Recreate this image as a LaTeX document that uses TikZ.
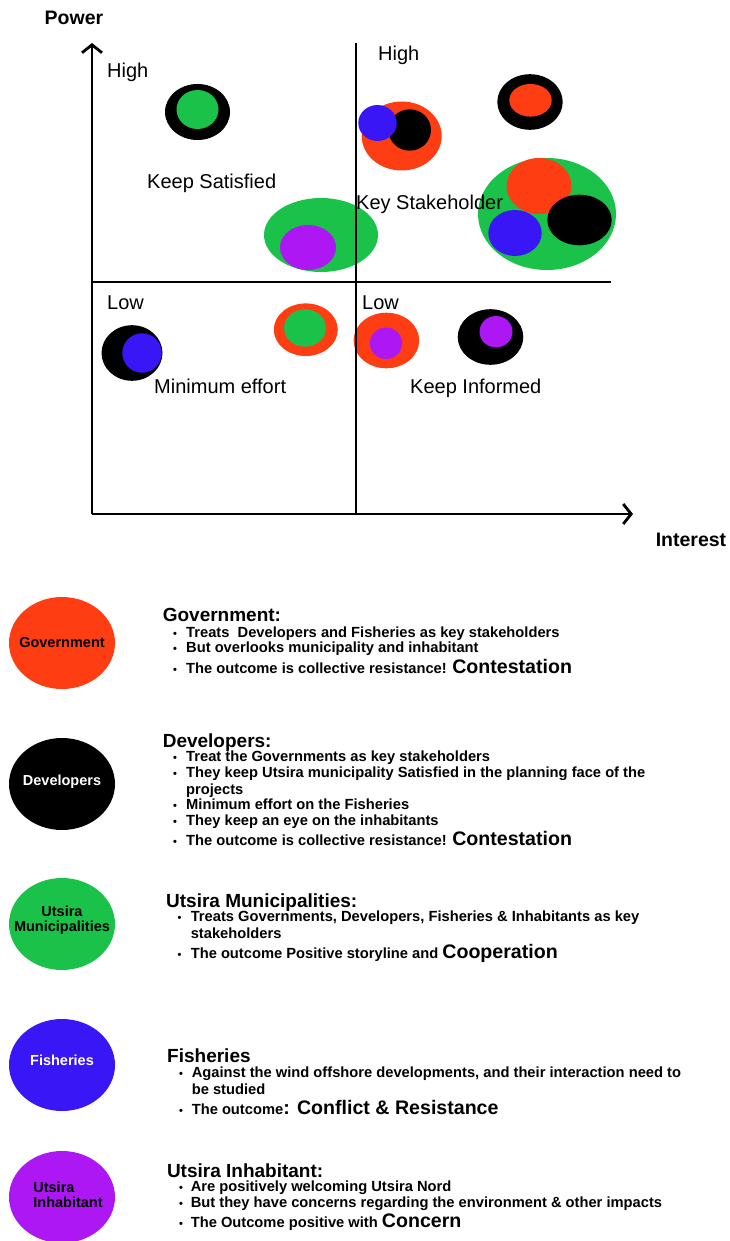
\documentclass[tikz,border=0pt]{standalone}
\usepackage{fontspec}
\setmainfont{Liberation Sans}
\usetikzlibrary{arrows.meta,shapes.geometric,positioning}
\definecolor{govred}{HTML}{FF3D12}
\definecolor{munigreen}{HTML}{1BC24A}
\definecolor{fishblue}{HTML}{3816F5}
\definecolor{inhabpurple}{HTML}{AD17F4}
\newcommand{\bigword}[1]{{\fontsize{19.6}{19.6}\selectfont #1}}

\begin{document}
\begin{tikzpicture}[x=1pt,y=-1pt,
  axisline/.style={line width=2.8pt,-{Straight Barb[length=8pt,width=20pt]}},
  divider/.style={line width=1.4pt},
  axistitle/.style={font=\bfseries\fontsize{19.5}{23}\selectfont,inner sep=0pt},
  quadtext/.style={font=\fontsize{20}{24}\selectfont,anchor=west,inner sep=0pt,text height=14pt,text depth=0pt},
  legcircle/.style={ellipse,minimum width=106pt,minimum height=92pt,inner sep=0pt},
  dotname/.style={font=\bfseries\fontsize{14.5}{15.5}\selectfont,align=center,inner sep=0pt},
  legtitle/.style={font=\bfseries\fontsize{19}{22}\selectfont,anchor=base west,inner sep=0pt},
  legitem/.style={font=\bfseries\fontsize{14.7}{16}\selectfont,anchor=base west,inner sep=0pt},
  bulletdot/.style={font=\bfseries\fontsize{11}{11}\selectfont,anchor=base west,inner sep=0pt}]
  \useasboundingbox (0,0) rectangle (729,1241);

  % power / interest grid
  \coordinate (origin) at (92,514);
  \coordinate (ytop) at (92,43);
  \coordinate (xend) at (633,514);
  \coordinate (vtop) at (356,43);
  \coordinate (vbot) at (356,514);
  \coordinate (hleft) at (92,282);
  \coordinate (hright) at (611,282);

  % high power, low interest
  \fill (197.5,112) ellipse [x radius=32.5,y radius=28];
  \fill[munigreen] (197.5,109.5) ellipse [x radius=21,y radius=19.5];
  \fill[munigreen] (321,235) ellipse [x radius=57,y radius=37];
  \fill[inhabpurple] (308,247.5) ellipse [x radius=28,y radius=22.5];
  % high power, high interest
  \fill[govred] (401.7,136) ellipse [x radius=40,y radius=34.5];
  \fill (409.7,130) ellipse [x radius=21.3,y radius=20.7];
  \fill[fishblue] (377.5,123) ellipse [x radius=19.2,y radius=18];
  \fill (530,102) ellipse [x radius=32.7,y radius=27.8];
  \fill[govred] (530.5,100.3) ellipse [x radius=21.2,y radius=16.3];
  \fill[munigreen] (547,214) ellipse [x radius=69,y radius=56];
  \fill[govred] (539,186) ellipse [x radius=32.5,y radius=28];
  \fill (579.5,220) ellipse [x radius=32.2,y radius=25.3];
  \fill[fishblue] (515,233) ellipse [x radius=26.7,y radius=23];
  % low power
  \fill (132,353) ellipse [x radius=30.5,y radius=27.8];
  \fill[fishblue] (142,353) ellipse [x radius=19.7,y radius=19.7];
  \fill[govred] (305.8,329.7) ellipse [x radius=32,y radius=26.3];
  \fill[munigreen] (305,328) ellipse [x radius=21,y radius=18.7];
  \fill[govred] (386.4,340.5) ellipse [x radius=32.8,y radius=27.8];
  \fill[inhabpurple] (386,343.3) ellipse [x radius=16.2,y radius=15.7];
  \fill (490.5,337) ellipse [x radius=32.8,y radius=27.8];
  \fill[inhabpurple] (496,331.7) ellipse [x radius=16.5,y radius=15.7];

  \draw[divider] (vtop) -- (vbot);
  \draw[divider] (hleft) -- (hright);
  \draw[axisline] (origin) -- (ytop);
  \draw[axisline] (origin) -- (xend);

  \node[axistitle] (power) at (74,18) {Power};
  \node[axistitle] (interest) at (691,540) {Interest};
  \node[quadtext] (highleft) at (107,71) {High};
  \node[quadtext] (highright) at (378,54) {High};
  \node[quadtext] (satisfied) at (147,182) {Keep Satisfied};
  \node[quadtext] (keyholder) at (356,203) {Key Stakeholder};
  \node[quadtext] (lowleft) at (107,302) {Low};
  \node[quadtext] (lowright) at (362,302) {Low};
  \node[quadtext] (minimum) at (154,386) {Minimum effort};
  \node[quadtext] (informed) at (410,386) {Keep Informed};

  % legend
  \node[legcircle,fill=govred] (govdot) at (62,643) {};
  \node[dotname] (govname) at (govdot.center) {Government};
  \node[legcircle,fill=black] (devdot) at (62,784) {};
  \node[dotname,text=white] (devname) at ([yshift=2pt]devdot.center) {Developers};
  \node[legcircle,fill=munigreen] (munidot) at (62,924) {};
  \node[dotname] (muniname) at ([yshift=4pt]munidot.center) {Utsira\\Municipalities};
  \node[legcircle,fill=fishblue] (fishdot) at (62,1065) {};
  \node[dotname,text=white] (fishname) at ([yshift=5pt]fishdot.center) {Fisheries};
  \node[legcircle,fill=inhabpurple] (inhabdot) at (62,1197) {};
  \node[dotname,align=left] (inhabname) at (68,1195) {Utsira\\Inhabitant};

  \node[legtitle] (govtitle) at (162.6,621.3) {Government:};
  \node[legitem] (gov1) at (186,637.3) {Treats~ Developers and Fisheries as key stakeholders};
  \node[legitem] (gov2) at (186,652.7) {But overlooks municipality and inhabitant};
  \node[legitem] (gov3) at (186,673.3) {The outcome is collective resistance! \bigword{Contestation}};
  \foreach \yy [count=\i] in {637.3,652.7,673.3}
    \node[bulletdot] (govb\i) at (173,\yy) {\textbullet};

  \node[legtitle] (devtitle) at (162.6,747.7) {Developers:};
  \node[legitem] (dev1) at (186,761.7) {Treat the Governments as key stakeholders};
  \node[legitem] (dev2) at (186,777.3) {They keep Utsira municipality Satisfied in the planning face of the};
  \node[legitem] (dev2b) at (186,794.3) {projects};
  \node[legitem] (dev3) at (186,809.3) {Minimum effort on the Fisheries};
  \node[legitem] (dev4) at (186,825) {They keep an eye on the inhabitants};
  \node[legitem] (dev5) at (186,845.7) {The outcome is collective resistance! \bigword{Contestation}};
  \foreach \yy [count=\i] in {761.7,777.3,809.3,825,845.7}
    \node[bulletdot] (devb\i) at (173,\yy) {\textbullet};

  \node[legtitle] (munititle) at (166,907.7) {Utsira Municipalities:};
  \node[legitem] (muni1) at (190.6,921.7) {Treats Governments, Developers, Fisheries \& Inhabitants as key};
  \node[legitem] (muni1b) at (190.6,938.3) {stakeholders};
  \node[legitem] (muni2) at (190.6,958.3) {The outcome Positive storyline and \bigword{Cooperation}};
  \foreach \yy [count=\i] in {921.7,958.3}
    \node[bulletdot] (munib\i) at (177.5,\yy) {\textbullet};

  \node[legtitle] (fishtitle) at (167,1062.7) {Fisheries};
  \node[legitem] (fish1) at (191.6,1077.7) {Against the wind offshore developments, and their interaction need to};
  \node[legitem] (fish1b) at (191.6,1094) {be studied};
  \node[legitem] (fish2) at (191.6,1114) {The outcome\bigword{: Conflict \& Resistance}};
  \foreach \yy [count=\i] in {1077.7,1114}
    \node[bulletdot] (fishb\i) at (179,\yy) {\textbullet};

  \node[legtitle] (inhabtitle) at (166.8,1177) {Utsira Inhabitant:};
  \node[legitem] (inhab1) at (190.6,1191.7) {Are positively welcoming Utsira Nord};
  \node[legitem] (inhab2) at (190.6,1207.7) {But they have concerns regarding the environment \& other impacts};
  \node[legitem] (inhab3) at (190.6,1227.7) {The Outcome positive with \bigword{Concern}};
  \foreach \yy [count=\i] in {1191.7,1207.7,1227.7}
    \node[bulletdot] (inhabb\i) at (179,\yy) {\textbullet};
\end{tikzpicture}
\end{document}
